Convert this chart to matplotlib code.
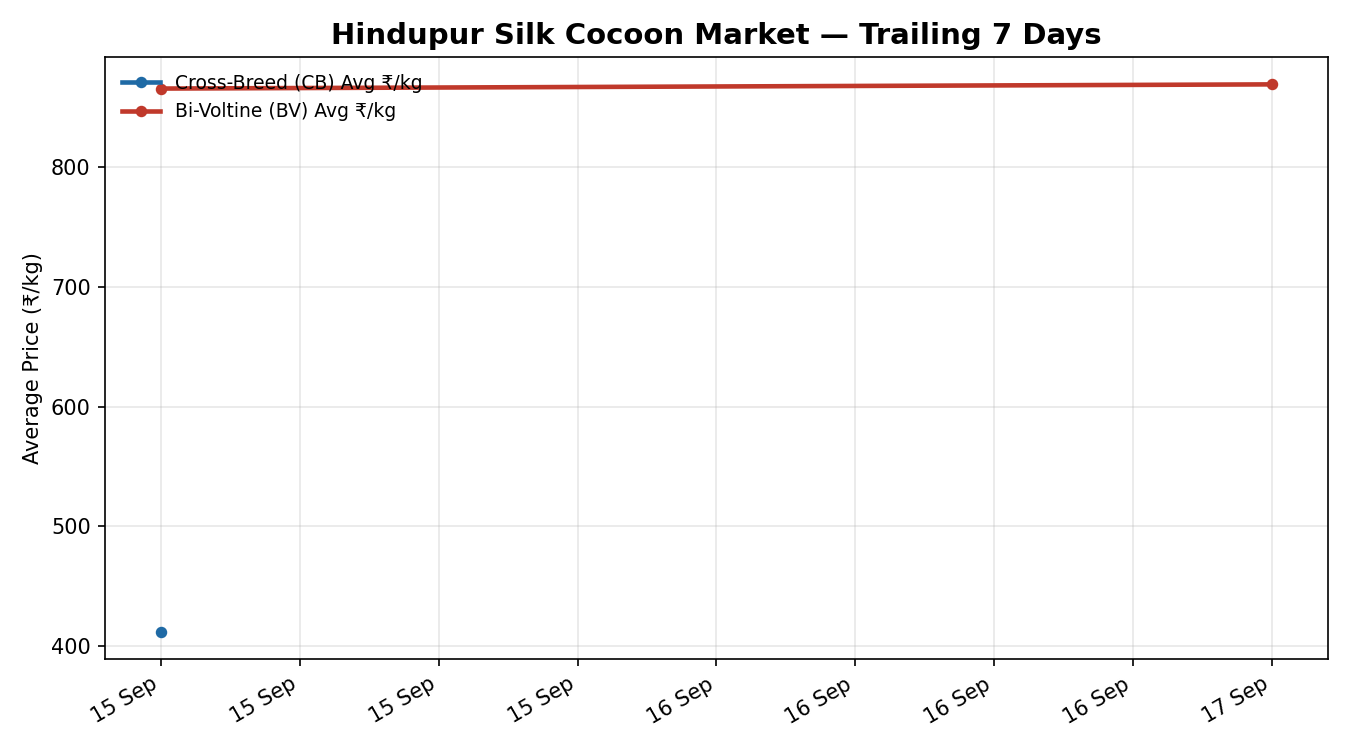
import pandas as pd
import numpy as np
import matplotlib
matplotlib.use("Agg")
from matplotlib import pyplot as plt
import matplotlib.dates as mdates

dates = pd.to_datetime(["2024-09-15", "2024-09-16", "2024-09-17"])
cb_avg = [411.7, np.nan, np.nan]
bv_avg = [866.0, np.nan, 869.5]

fig, ax = plt.subplots(figsize=(9, 5), dpi=150)

cb = pd.Series(cb_avg, index=dates).dropna()
bv = pd.Series(bv_avg, index=dates).dropna()

ax.plot(cb.index, cb.values, marker="o", markersize=4.5, linewidth=2.2,
        color="#1f6aa5", label="Cross-Breed (CB) Avg ₹/kg")
ax.plot(bv.index, bv.values, marker="o", markersize=4.5, linewidth=2.2,
        color="#c0392b", label="Bi-Voltine (BV) Avg ₹/kg")

ax.set_title("Hindupur Silk Cocoon Market — Trailing 7 Days", fontsize=14, fontweight="bold")
ax.set_ylabel("Average Price (₹/kg)")
ax.xaxis.set_major_formatter(mdates.DateFormatter("%d %b"))
ax.grid(True, alpha=0.3)
ax.legend(loc="upper left", frameon=False, fontsize=9)
fig.autofmt_xdate()
fig.tight_layout()
fig.savefig("out.png")
